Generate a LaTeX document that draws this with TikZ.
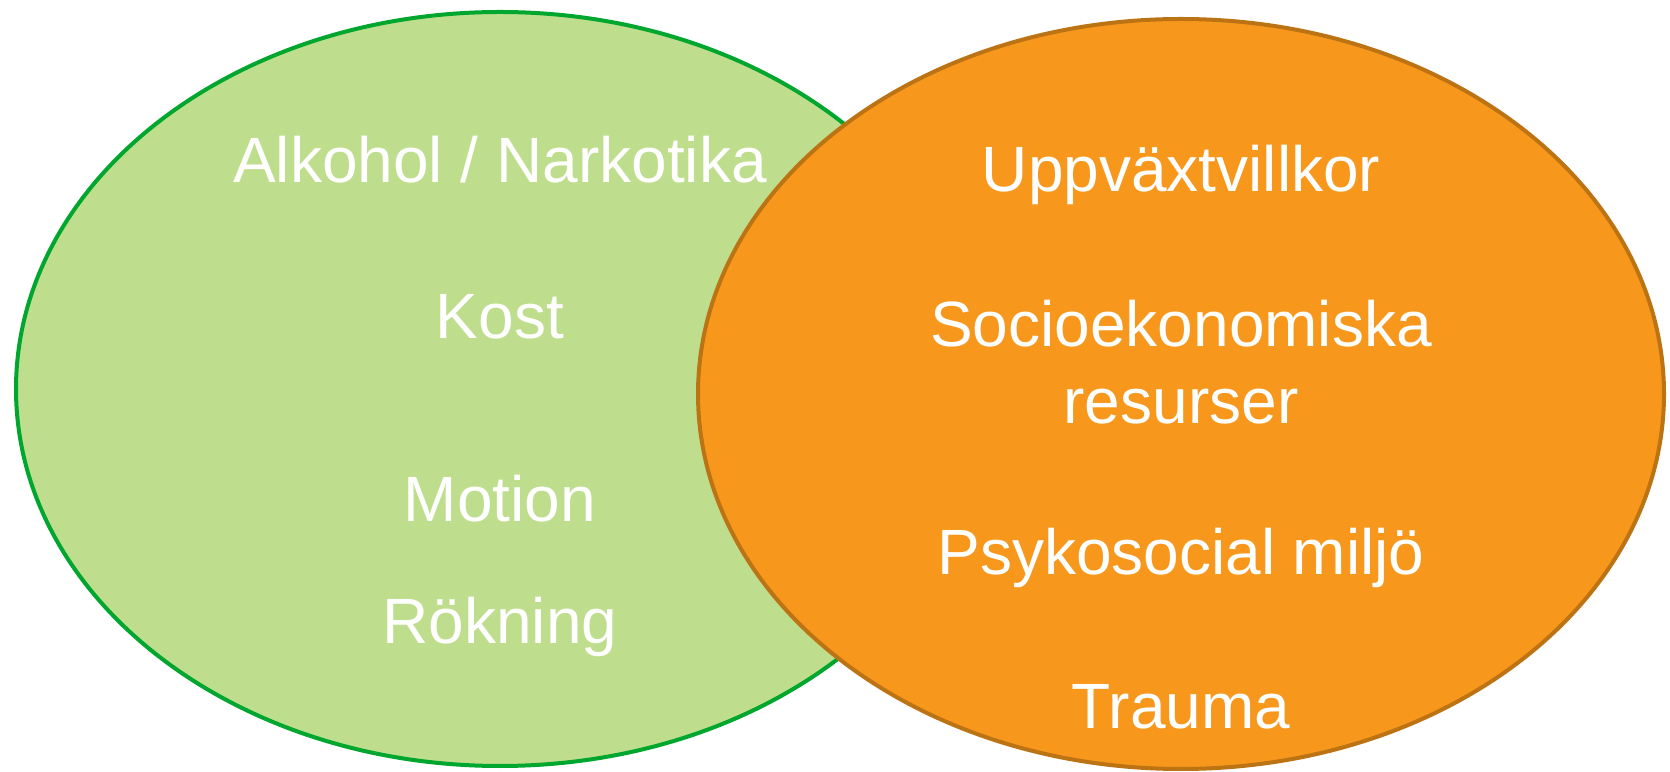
\documentclass[tikz,border=0pt]{standalone}
\usepackage{fontspec}
\setmainfont{Liberation Sans}
\definecolor{lifefill}{RGB}{190,222,141}
\definecolor{lifeline}{RGB}{0,166,46}
\definecolor{envfill}{RGB}{247,152,29}
\definecolor{envline}{RGB}{188,115,20}
\tikzset{factor/.style={text=white, font=\fontsize{64}{77}\selectfont, anchor=base, align=center, inner sep=0pt}}
\begin{document}
\begin{tikzpicture}[x=1pt, y=1pt]
        \useasboundingbox (0, 0) rectangle (1670, 771);
        \draw[line width=4pt, draw=lifeline, fill=lifefill] (500, 382) ellipse [x radius=484, y radius=377];
        \draw[line width=4pt, draw=envline, fill=envfill] (1181, 377) ellipse [x radius=483, y radius=375];
        \path (500, 588) node[factor](alk) {Alkohol / Narkotika} (500, 432) node[factor](kost) {Kost} (500, 249) node[factor](mot) {Motion} (500, 127) node[factor](rok) {Rökning};
        \path (1181, 579) node[factor](upp) {Uppväxtvillkor} (1181, 347) node[factor](soc) {Socioekonomiska\\resurser} (1181, 196) node[factor](psy) {Psykosocial miljö} (1181, 42) node[factor](tra) {Trauma};
    \end{tikzpicture}
\end{document}
